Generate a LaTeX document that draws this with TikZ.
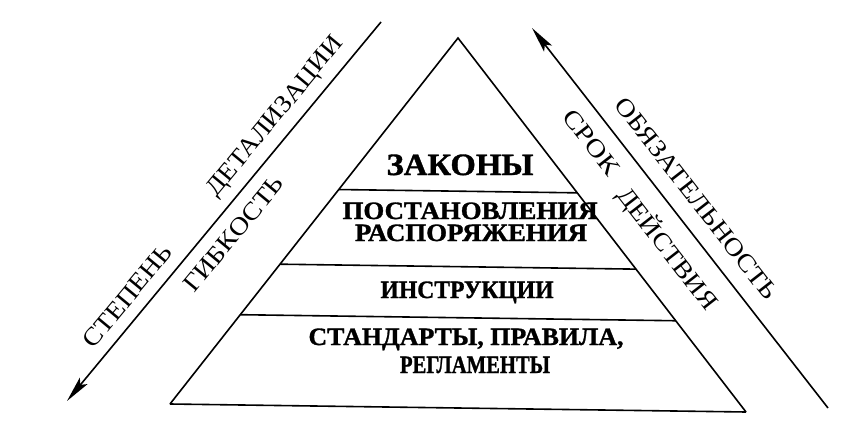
\documentclass[tikz,border=0pt]{standalone}
\usepackage{fontspec}
\usepackage{graphicx}
\setmainfont{Liberation Serif}
\newfontfamily\heavyfont{Liberation Serif Bold}[FakeBold=1.2]
\usetikzlibrary{arrows.meta,calc}
\newcommand\fitto[2]{\resizebox{#1}{\height}{#2}}
\begin{document}
\begin{tikzpicture}[x=1pt,y=-1pt,
  edge/.style={line width=1.6pt},
  lvl/.style={font=\heavyfont\fontsize{25}{25}\selectfont, inner sep=0pt, anchor=base},
  big/.style={font=\heavyfont\fontsize{31}{31}\selectfont, inner sep=0pt, anchor=base},
  side/.style={font=\fontsize{25}{25}\selectfont, inner sep=0pt},
  arr/.style={line width=1.6pt, -{Stealth[length=26pt,width=10pt,inset=5pt]}}]
\useasboundingbox[fill=white] (0,0) rectangle (865,447);
% pyramid
\coordinate (apex) at (458,38);
\coordinate (bl) at (170,404);
\coordinate (br) at (746,412);
\draw[edge] (bl) -- (apex) -- (br);
\draw[edge] (bl) -- (br);
\foreach \f/\n in {0.414/a,0.618/b,0.756/c}{
  \coordinate (L\n) at ($(apex)!\f!(bl)$);
  \coordinate (R\n) at ($(apex)!\f!(br)$);
  \draw[edge] (L\n) -- (R\n);
}
% level texts
\node[big] (zak) at (460,175) {\fitto{147pt}{ЗАКОНЫ}};
\node[lvl] (post) at (470,219) {\fitto{255pt}{ПОСТАНОВЛЕНИЯ}};
\node[lvl] (rasp) at (471,241) {\fitto{232pt}{РАСПОРЯЖЕНИЯ}};
\node[lvl] (instr) at (467,298) {\fitto{173pt}{ИНСТРУКЦИИ}};
\node[lvl] (stand) at (466,345) {\fitto{315pt}{СТАНДАРТЫ, ПРАВИЛА,}};
\node[lvl] (regl) at (475,373) {\fitto{150pt}{РЕГЛАМЕНТЫ}};
% left arrow
\coordinate (lt) at (381,22);
\coordinate (lb) at (67,401);
\draw[arr] (lt) -- (lb);
\node[side, rotate=50.4] (stepen) at (127.5,296) {\fitto{125pt}{СТЕПЕНЬ}};
\node[side, rotate=50.4] (detal) at (276,117) {\fitto{199pt}{ДЕТАЛИЗАЦИИ}};
\node[side, rotate=50.4] (gibk) at (233.5,234) {\fitto{142pt}{ГИБКОСТЬ}};
% right arrow
\coordinate (rb) at (828,408);
\coordinate (rt) at (532,28);
\draw[arr] (rb) -- (rt);
\node[side, rotate=-52.1] (obyaz) at (696.5,198.5) {\fitto{249pt}{ОБЯЗАТЕЛЬНОСТЬ}};
\node[side, rotate=-52.1] (srok) at (591.5,142.5) {\fitto{76pt}{СРОК}};
\node[side, rotate=-52.1] (deist) at (667.5,249) {\fitto{147pt}{ДЕЙСТВИЯ}};
\end{tikzpicture}
\end{document}
